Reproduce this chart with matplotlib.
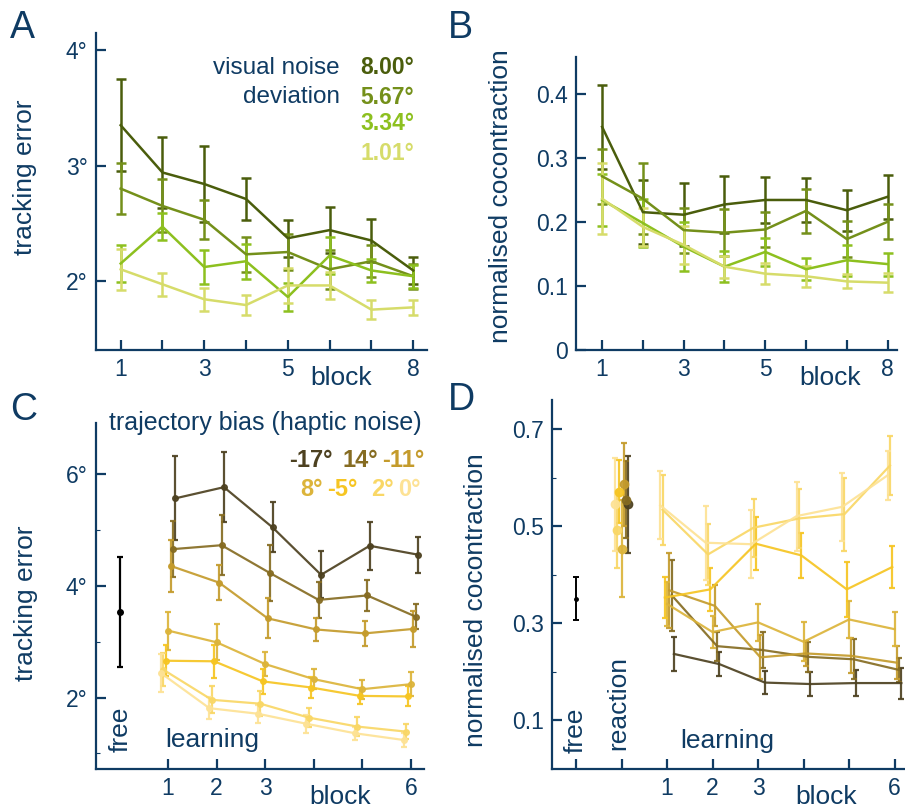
import matplotlib
matplotlib.use("Agg")
import numpy as np
from matplotlib import pyplot as plt

plt.rcParams["font.family"] = ["Liberation Sans", "DejaVu Sans"]

NAVY = "#0f3b63"

# ---- panel A / B : visual noise ----
blocks_ab = [1, 2, 3, 4, 5, 6, 7, 8]
noise_labels = ["8.00°", "5.67°", "3.34°", "1.01°"]
noise_colors = ["#4a5d0c", "#74901a", "#8dc01f", "#d6dc6a"]

a_mean = [
    [3.35, 2.94, 2.84, 2.71, 2.37, 2.44, 2.35, 2.09],
    [2.80, 2.65, 2.53, 2.23, 2.25, 2.10, 2.17, 2.04],
    [2.15, 2.47, 2.12, 2.17, 1.86, 2.22, 2.09, 2.04],
    [2.10, 1.97, 1.84, 1.79, 1.96, 1.96, 1.75, 1.77],
]
a_err = [
    [0.40, 0.31, 0.33, 0.18, 0.16, 0.20, 0.19, 0.12],
    [0.22, 0.23, 0.17, 0.15, 0.16, 0.17, 0.14, 0.11],
    [0.16, 0.12, 0.15, 0.15, 0.12, 0.16, 0.10, 0.10],
    [0.18, 0.10, 0.10, 0.085, 0.15, 0.12, 0.085, 0.065],
]
b_mean = [
    [0.348, 0.215, 0.211, 0.227, 0.234, 0.234, 0.218, 0.239],
    [0.271, 0.236, 0.187, 0.183, 0.188, 0.217, 0.173, 0.200],
    [0.234, 0.198, 0.161, 0.130, 0.153, 0.126, 0.140, 0.134],
    [0.236, 0.192, 0.164, 0.130, 0.119, 0.115, 0.107, 0.105],
]
b_err = [
    [0.066, 0.050, 0.049, 0.045, 0.036, 0.035, 0.032, 0.034],
    [0.043, 0.055, 0.035, 0.037, 0.028, 0.034, 0.028, 0.027],
    [0.040, 0.038, 0.038, 0.024, 0.022, 0.017, 0.024, 0.018],
    [0.055, 0.030, 0.030, 0.017, 0.016, 0.016, 0.011, 0.015],
]

# ---- panel C / D : haptic noise ----
blocks_cd = [1, 2, 3, 4, 5, 6]
bias_labels = ["-17°", "14°", "-11°", "8°", "-5°", "2°", "0°"]
bias_colors = ["#4d4120", "#866c22", "#c49b2c", "#dcb43a", "#f6c522", "#f9d766", "#fde295"]
bias_offset = [0.15, 0.10, 0.05, 0.0, -0.05, -0.10, -0.15]

c_free = (3.53, 0.99)
c_mean = [
    [5.57, 5.77, 5.05, 4.20, 4.72, 4.56],
    [4.66, 4.73, 4.23, 3.75, 3.83, 3.45],
    [4.36, 4.06, 3.42, 3.22, 3.15, 3.23],
    [3.20, 2.99, 2.60, 2.33, 2.15, 2.24],
    [2.66, 2.65, 2.29, 2.18, 2.03, 2.02],
    [2.50, 1.96, 1.89, 1.64, 1.48, 1.39],
    [2.44, 1.81, 1.71, 1.53, 1.36, 1.24],
]
c_err = [
    [0.75, 0.63, 0.45, 0.42, 0.43, 0.32],
    [0.50, 0.54, 0.50, 0.32, 0.28, 0.22],
    [0.47, 0.32, 0.36, 0.21, 0.23, 0.32],
    [0.34, 0.32, 0.22, 0.18, 0.17, 0.22],
    [0.28, 0.30, 0.22, 0.18, 0.15, 0.18],
    [0.30, 0.24, 0.22, 0.17, 0.17, 0.14],
    [0.34, 0.20, 0.16, 0.16, 0.12, 0.12],
]

d_free = (0.351, 0.045)
d_react_mean = [0.545, 0.555, 0.586, 0.454, 0.571, 0.493, 0.545]
d_react_err = [0.10, 0.08, 0.086, 0.10, 0.065, 0.08, 0.095]
d_mean = [
    [0.237, 0.216, 0.178, 0.175, 0.177, 0.177],
    [0.358, 0.253, 0.245, 0.231, 0.226, 0.204],
    [0.368, 0.336, 0.230, 0.238, 0.233, 0.219],
    [0.340, 0.282, 0.302, 0.262, 0.308, 0.288],
    [0.353, 0.370, 0.464, 0.440, 0.370, 0.416],
    [0.534, 0.442, 0.497, 0.516, 0.525, 0.625],
    [0.543, 0.466, 0.463, 0.521, 0.540, 0.605],
]
d_err = [
    [0.035, 0.024, 0.024, 0.024, 0.026, 0.032],
    [0.073, 0.030, 0.037, 0.031, 0.041, 0.025],
    [0.077, 0.042, 0.045, 0.025, 0.036, 0.034],
    [0.045, 0.033, 0.038, 0.040, 0.039, 0.035],
    [0.042, 0.045, 0.055, 0.047, 0.057, 0.043],
    [0.072, 0.062, 0.060, 0.060, 0.075, 0.060],
    [0.070, 0.076, 0.070, 0.071, 0.070, 0.050],
]


def style_axes(ax):
    for s in ["top", "right"]:
        ax.spines[s].set_visible(False)
    for s in ["left", "bottom"]:
        ax.spines[s].set_color(NAVY)
        ax.spines[s].set_linewidth(1.6)
    ax.tick_params(which="major", direction="in", length=7, width=1.6, colors=NAVY,
                   labelsize=16.5, pad=6)
    ax.tick_params(which="minor", direction="in", length=3, width=0.8, colors=NAVY)


fig = plt.figure(figsize=(9.05, 8.09), dpi=100)
W, H = 905, 809


def add_axes(left, top, right, bottom):
    return fig.add_axes([left / W, 1 - bottom / H, (right - left) / W, (bottom - top) / H])


axA = add_axes(96, 33, 427, 350)
axB = add_axes(576, 57, 897, 350)
axC = add_axes(96, 423, 424, 769)
axD = add_axes(552, 400, 905, 769)

# ---- A ----
for m, e, c in zip(a_mean, a_err, noise_colors):
    axA.errorbar(blocks_ab, m, yerr=e, color=c, lw=1.8, elinewidth=1.8, capsize=3.5, capthick=1.8)
axA.set_xlim(0.41, 8.33)
axA.set_ylim(1.4, 4.15)
axA.set_xticks(blocks_ab)
axA.set_xticklabels(["1", "", "3", "", "5", "", "", "8"])
axA.set_yticks([2, 3, 4])
axA.set_yticklabels(["2°", "3°", "4°"])
style_axes(axA)
axA.set_ylabel("tracking error", fontsize=19, color=NAVY)
axA.yaxis.set_label_coords(-0.178, 0.546)
axA.text(0.737, 0.89, "visual noise", transform=axA.transAxes, ha="right", va="center",
         fontsize=17.5, color=NAVY)
axA.text(0.737, 0.798, "deviation", transform=axA.transAxes, ha="right", va="center",
         fontsize=17.5, color=NAVY)
for lab, c, yy in zip(noise_labels, noise_colors, [0.89, 0.798, 0.713, 0.621]):
    axA.text(0.798, yy, lab, transform=axA.transAxes, ha="left", va="center",
             fontsize=16.5, color=c, fontweight="bold")
axA.text(6.27, -0.088, "block", transform=axA.get_xaxis_transform(), ha="center",
         va="center", fontsize=19, color=NAVY)

# ---- B ----
for m, e, c in zip(b_mean, b_err, noise_colors):
    axB.errorbar(blocks_ab, m, yerr=e, color=c, lw=1.8, elinewidth=1.8, capsize=3.5, capthick=1.8)
axB.set_xlim(0.36, 8.23)
axB.set_ylim(0, 0.457)
axB.set_xticks(blocks_ab)
axB.set_xticklabels(["1", "", "3", "", "5", "", "", "8"])
axB.set_yticks([0, 0.1, 0.2, 0.3, 0.4])
axB.set_yticklabels(["0", "0.1", "0.2", "0.3", "0.4"])
style_axes(axB)
axB.set_ylabel("normalised cocontraction", fontsize=19, color=NAVY)
axB.yaxis.set_label_coords(-0.196, 0.526)
axB.text(6.6, -0.096, "block", transform=axB.get_xaxis_transform(), ha="center",
         va="center", fontsize=19, color=NAVY)

# ---- C ----
axC.errorbar([0], [c_free[0]], yerr=[c_free[1]], color="black", lw=1.6, capsize=2.5,
             capthick=1.6, marker="o", ms=4)
for m, e, c, off in zip(c_mean, c_err, bias_colors, bias_offset):
    x = np.array(blocks_cd) + off
    axC.errorbar(x, m, yerr=e, color=c, lw=1.6, elinewidth=1.6, capsize=2.5, capthick=1.6,
                 marker="o", ms=4, alpha=0.92)
axC.set_xlim(-0.485, 6.27)
axC.set_ylim(0.72, 6.92)
axC.set_xticks(blocks_cd)
axC.set_xticklabels(["1", "2", "3", "", "", "6"])
axC.set_yticks([2, 4, 6])
axC.set_yticklabels(["2°", "4°", "6°"])
axC.set_yticks([1, 3, 5], minor=True)
style_axes(axC)
axC.set_ylabel("tracking error", fontsize=19, color=NAVY)
axC.yaxis.set_label_coords(-0.177, 0.48)
axC.text(4.54, -0.081, "block", transform=axC.get_xaxis_transform(), ha="center",
         va="center", fontsize=19, color=NAVY)
axC.text(1.91, 0.084, "learning", transform=axC.get_xaxis_transform(), ha="center",
         va="center", fontsize=19, color=NAVY)
axC.text(0.02, 0.116, "free", transform=axC.get_xaxis_transform(), ha="center",
         va="center", fontsize=19, color=NAVY, rotation=90)
axC.text(0.994, 1.0, "trajectory bias (haptic noise)", transform=axC.transAxes, ha="right",
         va="center", fontsize=18, color=NAVY)
leg_x = [0.588, 0.75, 0.872, 0.622, 0.704, 0.838, 0.921]
leg_y = [0.893, 0.893, 0.893, 0.809, 0.809, 0.809, 0.809]
for lab, c, lx, ly in zip(bias_labels, bias_colors, leg_x, leg_y):
    axC.text(lx, ly, lab, transform=axC.transAxes, ha="left", va="center", fontsize=17,
             color=c, fontweight="bold")

# ---- D ----
axD.errorbar([-1], [d_free[0]], yerr=[d_free[1]], color="black", lw=1.4, capsize=2,
             capthick=1.4, marker="o", ms=2.5)
for rm, re_, c, off in zip(d_react_mean, d_react_err, bias_colors, bias_offset):
    axD.errorbar([off], [rm], yerr=[re_], color=c, lw=1.6, capsize=2.5, capthick=1.6,
                 marker="o", ms=6, alpha=0.92)
for m, e, c, off in zip(d_mean, d_err, bias_colors, bias_offset):
    x = np.array(blocks_cd) + off
    axD.errorbar(x, m, yerr=e, color=c, lw=1.6, elinewidth=1.6, capsize=2.5, capthick=1.6,
                 alpha=0.92)
axD.set_xlim(-1.53, 6.23)
axD.set_ylim(0.0, 0.76)
axD.set_xticks([-1, 0] + blocks_cd)
axD.set_xticklabels(["", "", "1", "2", "3", "", "", "6"])
axD.set_yticks([0.1, 0.3, 0.5, 0.7])
axD.set_yticklabels(["0.1", "0.3", "0.5", "0.7"])
axD.set_yticks([0.2, 0.4, 0.6], minor=True)
style_axes(axD)
axD.set_ylabel("normalised cocontraction", fontsize=19, color=NAVY)
axD.yaxis.set_label_coords(-0.181, 0.458)
axD.text(4.5, -0.076, "block", transform=axD.get_xaxis_transform(), ha="center",
         va="center", fontsize=19, color=NAVY)
axD.text(2.32, 0.076, "learning", transform=axD.get_xaxis_transform(), ha="center",
         va="center", fontsize=19, color=NAVY)
axD.text(-1.0, 0.106, "free", transform=axD.get_xaxis_transform(), ha="center",
         va="center", fontsize=19, color=NAVY, rotation=90)
axD.text(-0.07, 0.179, "reaction", transform=axD.get_xaxis_transform(), ha="center",
         va="center", fontsize=19, color=NAVY, rotation=90)

# panel letters
for lab, px, py in [("A", 10, 28), ("B", 448, 28), ("C", 10, 410), ("D", 448, 400)]:
    fig.text(px / W, 1 - py / H, lab, ha="left", va="center", fontsize=27, color=NAVY)

fig.savefig("out.png", dpi=100)
